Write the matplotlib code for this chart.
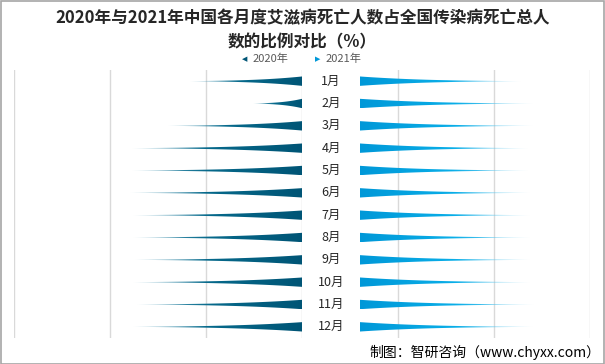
import numpy as np
import matplotlib.pyplot as plt
from matplotlib.patches import Polygon, Rectangle
from matplotlib.colors import to_rgb
from matplotlib.transforms import blended_transform_factory

plt.rcParams['font.family'] = ['Noto Sans CJK SC', 'DejaVu Sans']

months = ['1月', '2月', '3月', '4月', '5月', '6月', '7月', '8月', '9月', '10月', '11月', '12月']
v2020 = [71.7, 65.1, 74.0, 77.7, 77.7, 77.9, 77.6, 77.6, 77.4, 77.6, 77.2, 77.6]
v2021 = [76.7, 78.0, 78.0, 77.5, 77.5, 77.7, 77.7, 77.7, 77.7, 77.7, 78.1, 78.0]
base = 60

c2020 = ['#005576', '#06698b', '#6aaec6']
c2021 = ['#0098d8', '#0aaee8', '#9ddcf4']

W, H = 605, 364
fig = plt.figure(figsize=(6.05, 3.64), dpi=100)


def spike(ax, y, x0, x1, cols, hw=0.21):
    # tapering spike, dark at the base and fading out at the tip
    t = np.linspace(0, 1, 120)
    xs = x0 + (x1 - x0) * t
    w = hw * (0.72 * (1 - t) ** 3 + 0.28 * (1 - t))
    verts = np.column_stack([np.r_[xs, xs[::-1]], np.r_[y - w, (y + w)[::-1]]])
    poly = Polygon(verts, closed=True, facecolor='none', edgecolor='none')
    ax.add_patch(poly)
    s = np.linspace(0, 1, 256)[:, None]
    a, b, c = [np.array(to_rgb(k)) for k in cols]
    rgb = np.where(s < 0.55, a + (b - a) * (s / 0.55),
                   b + (c - b) * ((s - 0.55) / 0.45))
    alpha = 1 - 0.5 * np.clip((s[:, 0] - 0.65) / 0.35, 0, 1) ** 1.5
    img = np.dstack([rgb[None, :, 0], rgb[None, :, 1], rgb[None, :, 2], alpha[None, :]])
    im = ax.imshow(img, extent=[x0, x1, y + hw, y - hw], aspect='auto',
                   interpolation='bilinear', zorder=3)
    im.set_clip_path(poly)


axl = fig.add_axes([14 / W, 1 - 338 / H, 288 / W, 268 / H])
axr = fig.add_axes([360 / W, 1 - 338 / H, 230 / W, 268 / H])

for i, v in enumerate(v2020):
    spike(axl, i, base, v, c2020)
for i, v in enumerate(v2021):
    spike(axr, i, base, v, c2021)

axl.set_xlim(90, 60)
axl.set_xticks([60, 70, 80, 90])
axr.set_xlim(60, 84)
axr.set_xticks([64, 74, 84])
for ax in (axl, axr):
    ax.set_ylim(11.5, -0.5)
    ax.set_yticks([])
    ax.tick_params(axis='x', length=0, labelbottom=False)
    ax.grid(axis='x', color='#d9d9d9', linewidth=1)
    ax.set_axisbelow(True)
    for sp in ax.spines.values():
        sp.set_visible(False)

tr = blended_transform_factory(fig.transFigure, axr.transData)
for i, m in enumerate(months):
    axr.text(331 / W, i, m, transform=tr, ha='center', va='center',
             fontsize=9, color='#262626', clip_on=False)

fig.text(0.5, 1 - 30 / H, '2020年与2021年中国各月度艾滋病死亡人数占全国传染病死亡总人\n数的比例对比（%）',
         ha='center', va='center', fontsize=12, fontweight='bold', color='#262626', linespacing=1.45)

fig.text(245 / W, 1 - 59 / H, '◀', family='DejaVu Sans', fontsize=5, color=c2020[0], ha='center', va='center')
fig.text(253 / W, 1 - 59 / H, '2020年', fontsize=8, color='#595959', ha='left', va='center')
fig.text(318 / W, 1 - 59 / H, '▶', family='DejaVu Sans', fontsize=5, color=c2021[0], ha='center', va='center')
fig.text(326 / W, 1 - 59 / H, '2021年', fontsize=8, color='#595959', ha='left', va='center')

fig.text(600 / W, 1 - 352 / H, '制图：智研咨询（www.chyxx.com）', ha='right', va='center',
         fontsize=10, color='#000000')

fig.add_artist(Rectangle((0.001, 0.001), 0.997, 0.997, transform=fig.transFigure,
                         fill=False, edgecolor='#a6a6a6', linewidth=1.2))

fig.savefig('out.png', dpi=100)
